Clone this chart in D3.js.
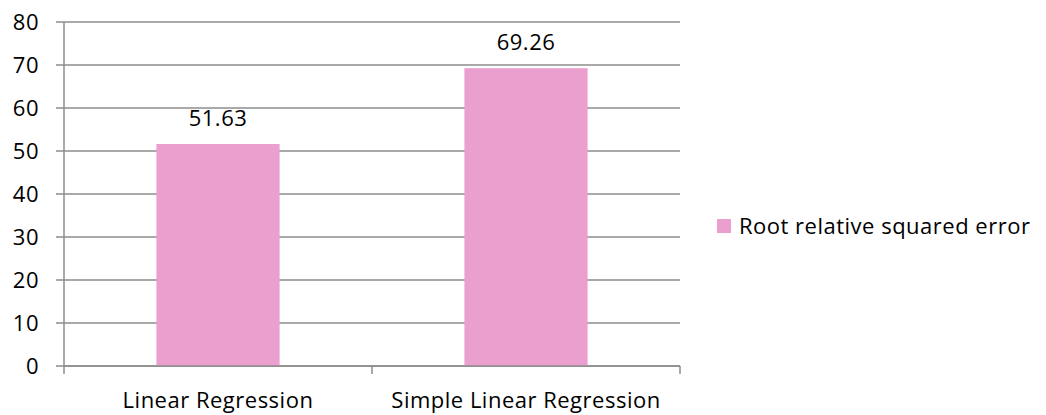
<!DOCTYPE html>
<html>
<head>
<meta charset="utf-8">
<script src="https://cdn.jsdelivr.net/npm/d3@7"></script>
<style>
  html, body { margin: 0; padding: 0; background: #fff; }
  svg { display: block; }
  text { font-family: "Open Sans", sans-serif; fill: #000; letter-spacing: 0.5px; }
</style>
</head>
<body>
<svg id="chart" width="1046" height="415"></svg>
<script>
// Bar chart of root relative squared error per regression model
const categories = ["Linear Regression", "Simple Linear Regression"];
const values = [51.63, 69.26];
const seriesName = "Root relative squared error";
const yTicks = [0, 10, 20, 30, 40, 50, 60, 70, 80];

const svg = d3.select("#chart");
const margin = { left: 64, right: 366, top: 22, bottom: 49 };
const W = 1046, H = 415;
const fontSize = "22px";

const x = d3.scaleBand()
  .domain(categories)
  .range([margin.left, W - margin.right])
  .paddingInner(0.6)
  .paddingOuter(0.3);

const y = d3.scaleLinear()
  .domain([0, 80])
  .range([H - margin.bottom, margin.top]);

const gridColor = "#8c8c8c";

// horizontal gridlines with left tick stubs
svg.append("g")
  .selectAll("line")
  .data(yTicks)
  .join("line")
  .attr("x1", margin.left - 8)
  .attr("x2", W - margin.right)
  .attr("y1", d => y(d))
  .attr("y2", d => y(d))
  .attr("stroke", gridColor)
  .attr("stroke-width", 1.5);

// y-axis labels
svg.append("g")
  .selectAll("text")
  .data(yTicks)
  .join("text")
  .attr("x", 39)
  .attr("y", d => y(d))
  .attr("dy", "0.35em")
  .attr("text-anchor", "end")
  .style("font-size", fontSize)
  .text(d => d);

// y-axis line
svg.append("line")
  .attr("x1", margin.left).attr("x2", margin.left)
  .attr("y1", y(80)).attr("y2", y(0))
  .attr("stroke", gridColor).attr("stroke-width", 1.5);

// bars
const barColor = "#eb9fcf";
svg.append("g")
  .selectAll("rect")
  .data(categories)
  .join("rect")
  .attr("x", d => x(d))
  .attr("width", x.bandwidth())
  .attr("y", (d, i) => y(values[i]))
  .attr("height", (d, i) => y(0) - y(values[i]))
  .attr("fill", barColor);

// value labels
svg.append("g")
  .selectAll("text")
  .data(categories)
  .join("text")
  .attr("x", d => x(d) + x.bandwidth() / 2)
  .attr("y", (d, i) => y(values[i]) - 18)
  .attr("text-anchor", "middle")
  .style("font-size", fontSize)
  .text((d, i) => values[i].toFixed(2));

// x-axis baseline and category ticks
svg.append("line")
  .attr("x1", margin.left).attr("x2", W - margin.right)
  .attr("y1", y(0)).attr("y2", y(0))
  .attr("stroke", gridColor).attr("stroke-width", 1.5);

const step = (W - margin.right - margin.left) / categories.length;
const bounds = d3.range(categories.length + 1).map(i => margin.left + i * step);
svg.append("g")
  .selectAll("line")
  .data(bounds)
  .join("line")
  .attr("x1", d => d).attr("x2", d => d)
  .attr("y1", y(0)).attr("y2", y(0) + 8)
  .attr("stroke", gridColor).attr("stroke-width", 1.5);

// category labels
svg.append("g")
  .selectAll("text")
  .data(categories)
  .join("text")
  .attr("x", d => x(d) + x.bandwidth() / 2)
  .attr("y", 408)
  .attr("text-anchor", "middle")
  .style("font-size", fontSize)
  .text(d => d);

// legend
const legend = svg.append("g").attr("transform", "translate(717,219)");
legend.append("rect")
  .attr("width", 14).attr("height", 14)
  .attr("fill", barColor);
legend.append("text")
  .attr("x", 22)
  .attr("y", 7)
  .attr("dy", "0.35em")
  .style("font-size", fontSize)
  .text(seriesName);
</script>
</body>
</html>
